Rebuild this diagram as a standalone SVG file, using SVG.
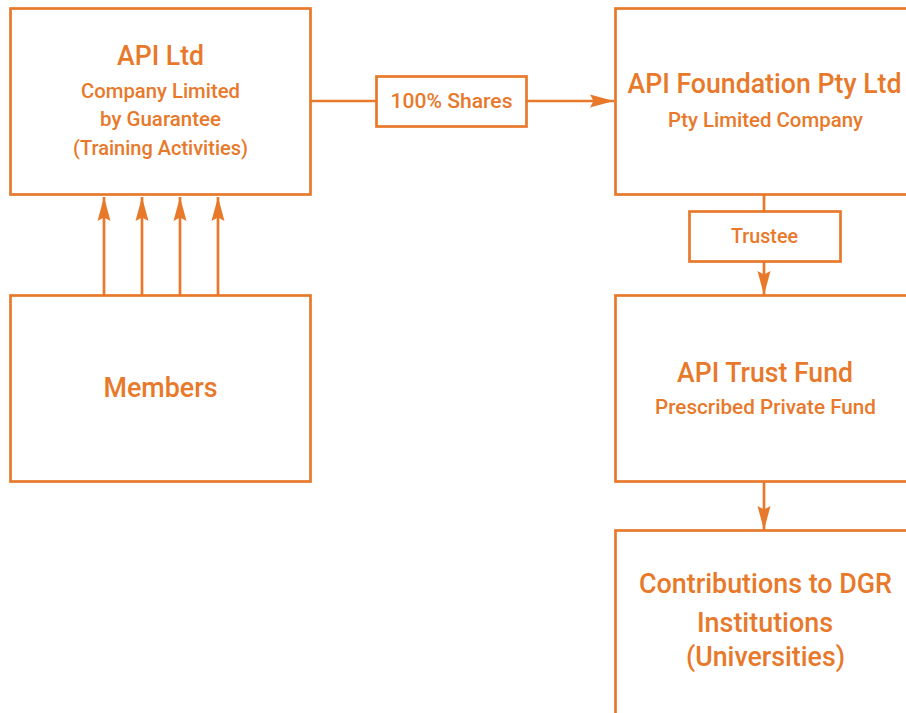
<svg xmlns="http://www.w3.org/2000/svg" width="906" height="713" viewBox="0 0 906 713">
<style>
.box{fill:#ffffff;stroke:#E8792B;stroke-width:2.7}
.ln{fill:none;stroke:#E8792B;stroke-width:2.7}
text{font-family:Roboto,"Liberation Sans",sans-serif;font-weight:500;fill:#E8792B;text-anchor:middle}
.t{font-size:28px}
.s{font-size:20.5px}
.l{font-size:19.5px}
</style>
<defs>
<marker id="ah" markerUnits="userSpaceOnUse" markerWidth="26" markerHeight="16" viewBox="0 -8 26 16" refX="24" refY="0" orient="auto">
<path d="M0,-6.5 L24,0 L0,6.5 L3.5,0 Z" fill="#E8792B"/>
</marker>
</defs>
<rect width="906" height="713" fill="#ffffff"/>
<g id="connectors">
<line class="ln" x1="104" y1="295" x2="104" y2="197" marker-end="url(#ah)"/>
<line class="ln" x1="142" y1="295" x2="142" y2="197" marker-end="url(#ah)"/>
<line class="ln" x1="180" y1="295" x2="180" y2="197" marker-end="url(#ah)"/>
<line class="ln" x1="218" y1="295" x2="218" y2="197" marker-end="url(#ah)"/>
<line class="ln" x1="311" y1="101" x2="376" y2="101"/>
<line class="ln" x1="527" y1="101" x2="614" y2="101" marker-end="url(#ah)"/>
<line class="ln" x1="764" y1="194" x2="764" y2="211"/>
<line class="ln" x1="764" y1="262" x2="764" y2="295" marker-end="url(#ah)"/>
<line class="ln" x1="764" y1="482" x2="764" y2="530" marker-end="url(#ah)"/>
</g>
<g id="api-ltd">
<rect class="box" x="10.5" y="8.5" width="300" height="186"/>
<text class="t" x="160.5" y="65" textLength="87" lengthAdjust="spacingAndGlyphs">API Ltd</text>
<text class="s" x="160.5" y="98" textLength="159" lengthAdjust="spacingAndGlyphs">Company Limited</text>
<text class="s" x="160.5" y="126" textLength="121" lengthAdjust="spacingAndGlyphs">by Guarantee</text>
<text class="s" x="160.5" y="155" textLength="175" lengthAdjust="spacingAndGlyphs">(Training Activities)</text>
</g>
<g id="members">
<rect class="box" x="10.5" y="295.5" width="300" height="186"/>
<text class="t" x="160.5" y="397" textLength="114" lengthAdjust="spacingAndGlyphs">Members</text>
</g>
<g id="shares-label">
<rect class="box" x="376.5" y="76.5" width="150" height="50"/>
<text class="l" x="451.5" y="107.5" textLength="122" lengthAdjust="spacingAndGlyphs">100% Shares</text>
</g>
<g id="api-foundation">
<rect class="box" x="615.5" y="8.5" width="310" height="186"/>
<text class="t" x="764.5" y="93" textLength="274" lengthAdjust="spacingAndGlyphs">API Foundation Pty Ltd</text>
<text class="s" x="765.5" y="126.5" textLength="195" lengthAdjust="spacingAndGlyphs">Pty Limited Company</text>
</g>
<g id="trustee-label">
<rect class="box" x="689.5" y="211.5" width="151" height="50"/>
<text class="l" x="764.5" y="242.5" textLength="67" lengthAdjust="spacingAndGlyphs">Trustee</text>
</g>
<g id="api-trust-fund">
<rect class="box" x="615.5" y="295.5" width="310" height="186"/>
<text class="t" x="765" y="382" textLength="176" lengthAdjust="spacingAndGlyphs">API Trust Fund</text>
<text class="s" x="765.5" y="414" textLength="221" lengthAdjust="spacingAndGlyphs">Prescribed Private Fund</text>
</g>
<g id="contributions">
<rect class="box" x="615.5" y="530.5" width="310" height="200"/>
<text class="t" x="765.5" y="593" textLength="253" lengthAdjust="spacingAndGlyphs">Contributions to DGR</text>
<text class="t" x="765" y="632" textLength="136" lengthAdjust="spacingAndGlyphs">Institutions</text>
<text class="t" x="765.5" y="666" textLength="159" lengthAdjust="spacingAndGlyphs">(Universities)</text>
</g>
</svg>
